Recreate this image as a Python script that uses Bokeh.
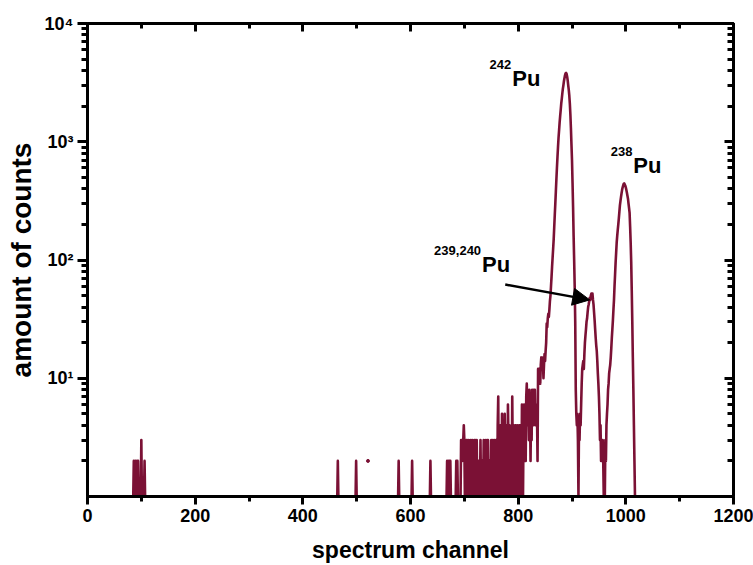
import numpy as np
from bokeh.plotting import figure
from bokeh.models import (Range1d, FixedTicker, LinearAxis, LogAxis, Label,
                          Arrow, NormalHead)
from bokeh.embed import file_html
from bokeh.resources import INLINE

# ---------------- data (counts per spectrum channel; 0 = empty channel) ----------------
sparse_channels = [84, 85, 86, 87, 88, 89, 90, 91, 92, 93, 94, 95, 96,
                   98, 99, 100, 101, 102,
                   104, 105, 106, 107, 108,
                   463, 464, 465, 466, 467,
                   497, 498, 499, 500, 501,
                   520, 521, 522,
                   576, 577, 578, 579, 580,
                   601, 602, 603, 604, 605,
                   635, 636, 637, 638, 639,
                   666, 667, 668, 669, 670, 671, 672, 673, 674, 675, 676,
                   683, 684, 685, 686, 687, 688, 689,
                   692]
sparse_counts = [0, 1, 2, 1, 1, 2, 1, 1, 2, 1, 2, 1, 0,
                 0, 1, 3, 1, 0,
                 0, 1, 2, 1, 0,
                 0, 1, 2, 1, 0,
                 0, 1, 2, 1, 0,
                 0, 2, 0,
                 0, 1, 2, 1, 0,
                 0, 1, 2, 1, 0,
                 0, 1, 2, 1, 0,
                 0, 1, 2, 1, 1, 2, 2, 1, 2, 1, 0,
                 0, 1, 2, 1, 2, 1, 0,
                 0]

main_first_channel = 693
main_counts = [
    1, 3, 3, 2, 3, 3, 4, 3, 1, 1, 1, 3, 3, 1, 1, 3, 1, 1, 2, 3,            # 693-712
    1, 1, 3, 2, 1, 1, 3, 3, 1, 1, 3, 1, 1, 2, 1, 1, 1, 3, 1, 1,            # 713-732
    2, 1, 1, 3, 2, 1, 1, 3, 1, 1, 3, 3, 1, 1, 2, 1, 1, 3, 1, 1,            # 733-752
    3, 1, 1, 3, 1, 1, 3, 1, 1, 4, 7, 1, 3, 1, 4, 3, 1, 5, 1, 1,            # 753-772
    3, 1, 5, 2, 1, 4, 1, 1, 6, 3, 1, 4, 2, 1, 3, 1, 7, 2, 1, 4,            # 773-792
    3, 1, 4, 4, 1, 3, 4, 1, 3, 4, 1, 4, 2, 1, 6, 3, 1, 4, 6, 2,            # 793-812
    5, 2, 7, 9, 4, 8, 6, 3, 8, 5, 2, 6, 3, 8, 5, 4, 8, 7, 8, 4,            # 813-832
    6, 4, 5, 2, 12, 10, 12, 11, 9, 13, 15, 12, 15, 14, 10, 13, 16, 14, 17, 20,   # 833-852
    29, 27, 32, 35, 33, 38, 45, 50, 60, 72, 88, 105, 125, 150, 190, 240,   # 853-868
    300, 380, 480, 600, 740, 900, 1080, 1250, 1450, 1650, 1850, 2100,      # 869-880
    2300, 2550, 2800, 3000, 3250, 3450, 3650, 3780, 3820, 3750, 3550, 3300, # 881-892
    3000, 2750, 2450, 2100, 1700, 1300, 950, 700, 450, 280, 160, 100,      # 893-904
    60, 30, 8, 5, 4, 5, 3, 1, 4, 3, 5, 4, 6, 9, 12, 13, 14, 12, 16, 20,    # 905-924
    23, 26, 30, 32, 36, 40, 42, 45, 48, 46, 50, 52, 48, 52, 46, 42, 36, 31, 26, 22,  # 925-944
    19, 17, 14, 11, 9, 7, 5, 3, 4, 2, 3, 2, 3, 2, 1, 2, 1, 3, 2, 4,        # 945-964
    5, 6, 8, 9, 11, 12, 13, 15, 18, 22, 26, 31, 38, 46, 60, 75, 95, 115, 140, 160,  # 965-984
    180, 200, 225, 255, 290, 315, 340, 365, 390, 410, 425, 440, 445, 435, 425, 410,  # 985-1000
    390, 370, 350, 330, 300, 275, 250, 190, 140, 95, 55, 30, 15, 8, 4, 2, 1, 0,      # 1001-1018
]

x_ticks = [0, 200, 400, 600, 800, 1000, 1200]
x_minor_ticks = [100, 300, 500, 700, 900, 1100]
y_ticks = [10, 100, 1000, 10000]
y_minor_ticks = [d * k for d in [1, 10, 100, 1000] for k in range(2, 10)]
y_tick_labels = ["10\u00b9", "10\u00b2", "10\u00b3", "10\u2074"]

# isotope labels: superscript, element, channel, counts (anchor of the element text)
iso_sup = ["242", "238", "239,240"]
iso_elem = ["Pu", "Pu", "Pu"]
iso_channel = [789, 1014, 733]
iso_count = [3440, 626, 91]

arrow_tail = (776, 62)
arrow_tip = (933, 46)

# ---------------- build series ----------------
ch = np.array(sparse_channels + list(range(main_first_channel, main_first_channel + len(main_counts))), dtype=float)
ct = np.array(sparse_counts + main_counts, dtype=float)
y = np.where(ct > 0, ct, np.nan)

# isolated non-empty channels (no drawable neighbours) -> drawn as dots
iso_mask = np.zeros(len(ct), dtype=bool)
for i in range(len(ct)):
    if ct[i] > 0:
        left = ct[i - 1] if i > 0 else 0
        right = ct[i + 1] if i < len(ct) - 1 else 0
        iso_mask[i] = (left == 0 and right == 0)

COLOR = "#7b1135"
FONT = "Liberation Sans"

p = figure(frame_width=646, frame_height=473, output_backend="svg", toolbar_location=None,
           y_axis_type="log", x_range=Range1d(0, 1200), y_range=Range1d(1, 10000),
           min_border_left=87, min_border_right=20, min_border_top=23, min_border_bottom=69,
           background_fill_color="white", border_fill_color="white")
p.xgrid.visible = False
p.ygrid.visible = False
p.outline_line_color = "black"
p.outline_line_width = 3

p.line(ch, y, line_color=COLOR, line_width=2.6, line_join="round")
p.scatter(ch[iso_mask], y[iso_mask], size=3, color=COLOR)

xa = p.xaxis[0]
xa.ticker = FixedTicker(ticks=x_ticks, minor_ticks=x_minor_ticks)
xa.axis_label = "spectrum channel"
ya = p.yaxis[0]
ya.ticker = FixedTicker(ticks=y_ticks, minor_ticks=y_minor_ticks)
ya.major_label_overrides = dict(zip(y_ticks, y_tick_labels))
ya.axis_label = "amount of counts"

for ax in (xa, ya):
    ax.axis_line_width = 3
    ax.axis_line_color = "black"
    ax.major_tick_line_width = 3
    ax.minor_tick_line_width = 3
    ax.major_tick_in = 0
    ax.minor_tick_in = 0
    ax.major_label_text_font = FONT
    ax.major_label_text_font_style = "bold"
    ax.major_label_text_font_size = "18px"
    ax.major_label_text_color = "black"
    ax.axis_label_text_font = FONT
    ax.axis_label_text_font_style = "bold"
    ax.axis_label_text_color = "black"
xa.axis_label_text_font_size = "23px"
ya.axis_label_text_font_size = "28px"
xa.major_tick_out = 8
xa.minor_tick_out = 5
xa.major_label_standoff = 4
xa.axis_label_standoff = 12
ya.major_tick_out = 10
ya.minor_tick_out = 6
ya.major_label_standoff = 4
ya.axis_label_standoff = 5

# top and right axes: inward ticks, no labels
top = LinearAxis(ticker=FixedTicker(ticks=x_ticks, minor_ticks=x_minor_ticks))
right = LogAxis(ticker=FixedTicker(ticks=y_ticks, minor_ticks=y_minor_ticks))
for ax, a, b in ((top, 8, 5), (right, 9, 6)):
    ax.axis_line_width = 3
    ax.major_tick_line_width = 3
    ax.minor_tick_line_width = 3
    ax.major_tick_in = a
    ax.major_tick_out = 0
    ax.minor_tick_in = b
    ax.minor_tick_out = 0
    ax.major_label_text_color = None
    ax.major_label_text_font_size = "1px"
p.add_layout(top, "above")
p.add_layout(right, "right")

# isotope labels
for s, e, cx, cy in zip(iso_sup, iso_elem, iso_channel, iso_count):
    p.add_layout(Label(x=cx, y=cy, text=e, text_font=FONT, text_font_style="bold",
                       text_font_size="22px", text_align="left", text_baseline="alphabetic",
                       text_color="black"))
    p.add_layout(Label(x=cx, y=cy, x_offset=-1, y_offset=14, text=s, text_font=FONT,
                       text_font_style="bold", text_font_size="13px", text_align="right",
                       text_baseline="alphabetic", text_color="black"))

p.add_layout(Arrow(end=NormalHead(size=17, fill_color="black", line_color="black", line_width=1),
                   x_start=arrow_tail[0], y_start=arrow_tail[1], x_end=arrow_tip[0], y_end=arrow_tip[1],
                   line_width=2.5, line_color="black"))

open("out.html", "w").write(file_html(p, INLINE))
